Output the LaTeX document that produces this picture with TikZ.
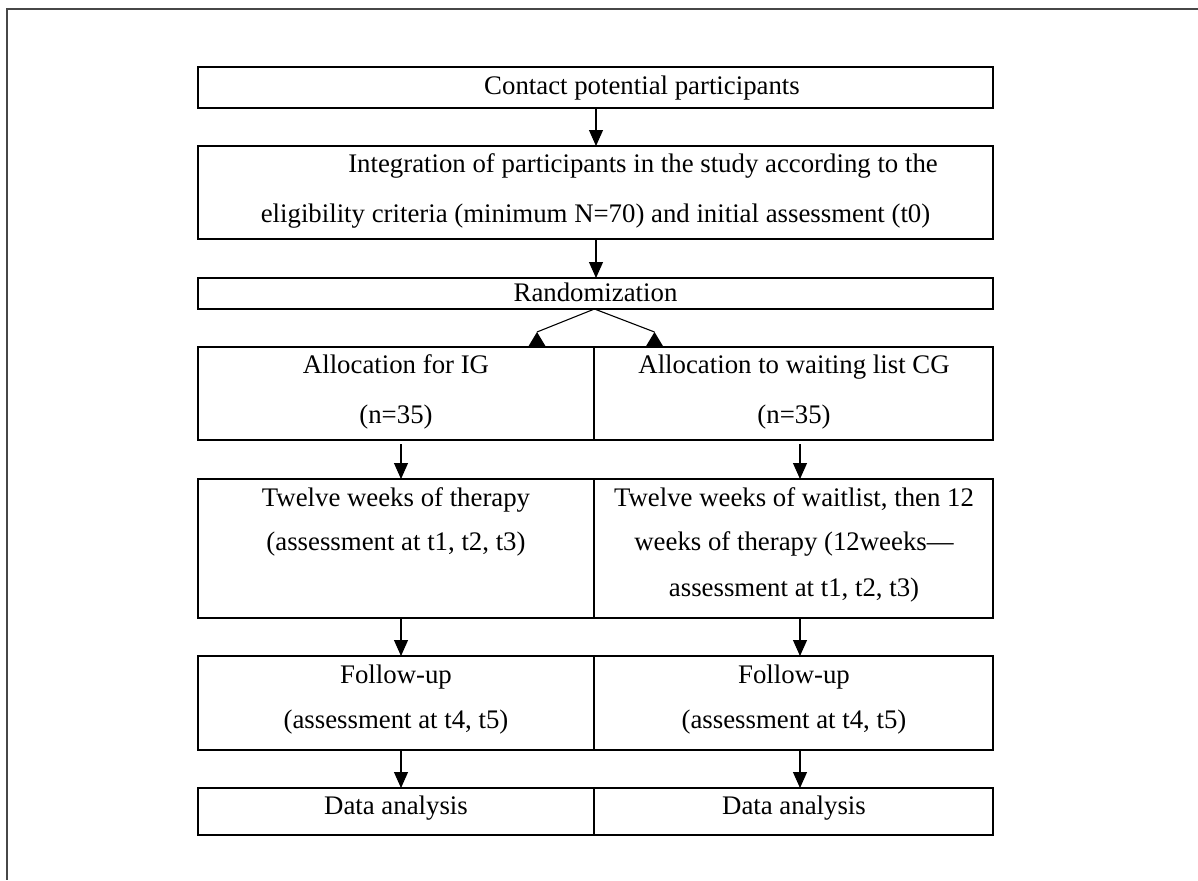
\documentclass[tikz,border=0pt]{standalone}
\usepackage{fontspec}
\setmainfont{Liberation Serif}
\usetikzlibrary{arrows.meta,calc}
\begin{document}
\begin{tikzpicture}[x=1pt,y=-1pt,
  box/.style={draw=black,line width=1.4pt,minimum width=#1,inner sep=0pt,outer sep=0pt},
  frm/.style={draw=black,line width=2.3pt},
  txt/.style={anchor=base,inner sep=0pt,font=\fontsize{26.8}{30}\selectfont},
  arr/.style={line width=1.1pt,-{Triangle[length=16pt,width=14pt]}},
  ln/.style={line width=1.1pt},
  head/.style={fill=black},
  outer/.style={draw=black!72,line width=2.6pt}]
\useasboundingbox (0,0) rectangle (1198,880);
\coordinate (ftop) at (1198,9);
\coordinate (fcorner) at (7,9);
\coordinate (fbot) at (7,880);
\draw[outer] (ftop) -- (fcorner) -- (fbot);

% single-width boxes
\node[box=795pt,minimum height=41pt,frm] (contact) at (595.5,87.5) {};
\node[box=795pt,minimum height=93pt,frm] (integ) at (595.5,192.5) {};
\node[box=795pt,minimum height=31pt,frm] (rand) at (595.5,293.5) {};

% paired boxes
\node[box=396pt,minimum height=93pt] (allocL) at (396,393.5) {};
\node[box=399pt,minimum height=93pt] (allocR) at (793.5,393.5) {};
\node[box=396pt,minimum height=139pt] (twL) at (396,548.5) {};
\node[box=399pt,minimum height=139pt] (twR) at (793.5,548.5) {};
\node[box=396pt,minimum height=94pt] (fuL) at (396,703) {};
\node[box=399pt,minimum height=94pt] (fuR) at (793.5,703) {};
\node[box=396pt,minimum height=47pt] (daL) at (396,811.5) {};
\node[box=399pt,minimum height=47pt] (daR) at (793.5,811.5) {};
\foreach \l/\r in {allocL/allocR,twL/twR,fuL/fuR,daL/daR}
  \draw[frm] (\l.north west) rectangle (\r.south east);

% texts
\node[txt] (t1) at (642,95) {Contact potential participants};
\node[txt] (t2a) at (643,172) {Integration of participants in the study according to the};
\node[txt] (t2b) at (595.5,222) {eligibility criteria (minimum N=70) and initial assessment (t0)};
\node[txt] (t3) at (595.5,301) {Randomization};
\node[txt] (t4a) at (396,373) {Allocation for IG};
\node[txt] (t4b) at (396,423) {(n=35)};
\node[txt] (t5a) at (794,373) {Allocation to waiting list CG};
\node[txt] (t5b) at (794,423) {(n=35)};
\node[txt] (t6a) at (396,506) {Twelve weeks of therapy};
\node[txt] (t6b) at (396,550) {(assessment at t1, t2, t3)};
\node[txt] (t7a) at (794,506) {Twelve weeks of waitlist, then 12};
\node[txt] (t7b) at (794,550) {weeks of therapy (12weeks—};
\node[txt] (t7c) at (794,596) {assessment at t1, t2, t3)};
\node[txt] (t8a) at (396,683) {Follow-up};
\node[txt] (t8b) at (396,728) {(assessment at t4, t5)};
\node[txt] (t9a) at (794,683) {Follow-up};
\node[txt] (t9b) at (794,728) {(assessment at t4, t5)};
\node[txt] (t10) at (396,814) {Data analysis};
\node[txt] (t11) at (794,814) {Data analysis};

% arrows
\draw[arr] (contact.south -| 596,0) -- (integ.north -| 596,0);
\draw[arr] (integ.south -| 596,0) -- (rand.north -| 596,0);
\coordinate (split) at (594.5,309);
\coordinate (apL) at (537,332);
\coordinate (apR) at (654.5,332);
\draw[ln] (split) -- (apL);
\draw[ln] (split) -- (apR);
\fill[head] (apL) -- (528,347) -- (546,347) -- cycle;
\fill[head] (apR) -- (645.5,347) -- (663.5,347) -- cycle;
\draw[arr] (401,444) -- (twL.north -| 401,0);
\draw[arr] (800,444) -- (twR.north -| 800,0);
\draw[arr] (twL.south -| 401,0) -- (fuL.north -| 401,0);
\draw[arr] (twR.south -| 800,0) -- (fuR.north -| 800,0);
\draw[arr] (fuL.south -| 401,0) -- (daL.north -| 401,0);
\draw[arr] (fuR.south -| 800,0) -- (daR.north -| 800,0);
\end{tikzpicture}
\end{document}
